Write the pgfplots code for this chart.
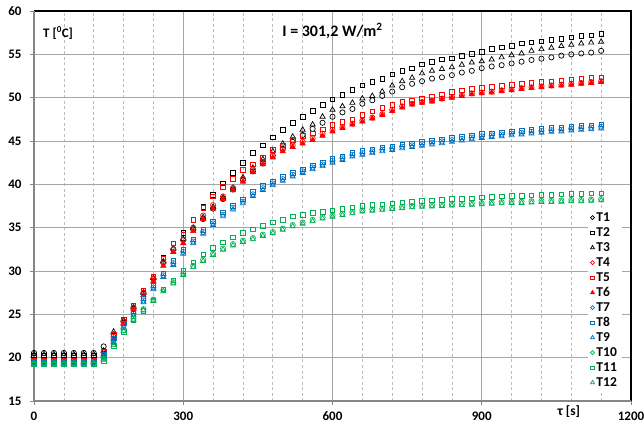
\documentclass[border=0pt]{standalone}
\usepackage{fontspec}
\setmainfont{Carlito}
\usepackage{pgfplots}
\usepackage{pgfplotstable}
\pgfplotsset{compat=1.18}

\definecolor{cred}{HTML}{FF0000}
\definecolor{cblue}{HTML}{0070C0}
\definecolor{cgreen}{HTML}{00B050}
\definecolor{gridc}{HTML}{A6A6A6}
\definecolor{axc}{HTML}{868686}

% black group: T1 circle, T2 square, T3 triangle
\pgfplotstableread{
t    a      b      c
0    20.55  20.25  20.40
20   20.55  20.25  20.40
40   20.55  20.25  20.40
60   20.55  20.25  20.40
80   20.55  20.25  20.40
100  20.55  20.25  20.40
120  20.55  20.25  20.40
140  21.30  20.50  20.80
160  22.70  22.50  23.00
180  24.20  24.00  24.30
200  25.70  25.60  25.80
220  27.40  27.40  27.50
240  29.10  29.30  29.20
260  31.00  31.50  31.10
280  32.50  33.20  32.60
300  33.60  34.40  33.70
320  34.80  35.90  35.00
340  36.00  37.40  36.20
360  37.20  38.80  37.40
380  38.30  40.10  38.50
400  39.40  41.35  39.60
420  40.50  42.50  40.80
440  41.50  43.60  41.90
460  42.40  44.50  42.90
480  43.30  45.40  43.80
500  44.10  46.30  44.70
520  44.90  47.10  45.50
540  45.70  47.80  46.30
560  46.40  48.50  46.90
580  47.10  49.15  47.80
600  47.80  49.80  48.60
620  48.30  50.30  49.00
640  48.70  50.90  49.40
660  49.30  51.40  49.90
680  49.70  51.85  50.20
700  50.20  52.20  50.70
720  50.70  52.70  51.40
740  51.20  53.10  51.90
760  51.60  53.40  52.30
780  51.90  53.85  52.80
800  52.20  54.10  53.10
820  52.35  54.40  53.30
840  52.60  54.55  53.50
860  52.90  54.80  53.80
880  53.10  55.05  54.05
900  53.40  55.30  54.20
920  53.60  55.60  54.40
940  53.75  55.80  54.65
960  53.95  55.95  54.90
980  54.15  56.25  55.10
1000 54.35  56.40  55.40
1020 54.50  56.50  55.60
1040 54.65  56.65  55.75
1060 54.85  56.80  55.95
1080 55.00  56.95  56.10
1100 55.10  57.10  56.25
1120 55.20  57.20  56.35
1140 55.40  57.35  56.45
}\tblack

% red group: T4 circle, T5 square, T6 triangle
\pgfplotstableread{
t    a      b      c
0    19.60  19.65  19.50
20   19.60  19.65  19.50
40   19.60  19.65  19.50
60   19.60  19.65  19.50
80   19.60  19.65  19.50
100  19.60  19.65  19.50
120  19.60  19.65  19.50
140  20.60  20.70  20.40
160  22.40  22.60  22.20
180  24.20  24.35  24.00
200  25.80  26.00  25.60
220  27.50  27.70  27.20
240  29.10  29.40  28.80
260  31.00  31.40  30.60
280  32.50  33.20  32.20
300  33.60  34.20  33.20
320  35.00  35.90  34.60
340  36.40  37.30  36.00
360  37.60  38.60  37.20
380  38.60  39.70  38.30
400  39.60  40.60  39.30
420  40.60  41.70  40.30
440  41.70  42.30  41.40
460  42.60  43.10  42.30
480  43.30  44.00  43.10
500  44.00  44.50  43.80
520  44.50  45.10  44.30
540  44.90  45.60  44.70
560  45.30  45.90  45.10
580  45.85  46.35  45.60
600  46.27  46.85  46.10
620  46.60  47.20  46.50
640  47.00  47.50  46.90
660  47.35  48.00  47.25
680  47.70  48.40  47.60
700  48.10  48.85  48.00
720  48.60  49.15  48.45
740  49.00  49.50  48.85
760  49.30  49.70  49.20
780  49.50  49.90  49.40
800  49.65  50.10  49.55
820  49.90  50.40  49.80
840  50.10  50.65  50.00
860  50.30  50.85  50.20
880  50.50  51.05  50.40
900  50.60  51.15  50.50
920  50.70  51.25  50.60
940  50.85  51.35  50.75
960  50.95  51.45  50.85
980  51.10  51.60  51.00
1000 51.20  51.70  51.10
1020 51.30  51.80  51.20
1040 51.40  51.90  51.30
1060 51.50  52.00  51.40
1080 51.60  52.10  51.50
1100 51.70  52.20  51.60
1120 51.80  52.30  51.70
1140 51.90  52.35  51.80
}\tred

% blue group: T7 circle, T8 square, T9 triangle
\pgfplotstableread{
t    a      b      c
0    19.50  19.45  19.40
20   19.50  19.45  19.40
40   19.50  19.45  19.40
60   19.50  19.45  19.40
80   19.50  19.45  19.40
100  19.50  19.45  19.40
120  19.50  19.45  19.40
140  20.10  20.30  19.90
160  22.00  22.25  21.80
180  23.70  23.95  23.50
200  25.10  25.35  24.90
220  26.60  26.85  26.40
240  28.10  28.35  27.90
260  29.50  29.75  29.30
280  30.90  31.15  30.70
300  32.20  32.45  32.00
320  33.40  33.65  33.20
340  34.50  34.75  34.30
360  35.50  35.75  35.30
380  36.50  36.75  36.30
400  37.30  37.55  37.10
420  38.00  38.25  37.80
440  38.85  39.10  38.65
460  39.55  39.80  39.35
480  40.10  40.35  39.90
500  40.60  40.85  40.40
520  41.10  41.35  40.90
540  41.50  41.75  41.30
560  41.95  42.20  41.75
580  42.30  42.55  42.10
600  42.70  42.95  42.50
620  43.00  43.25  42.80
640  43.40  43.65  43.20
660  43.60  43.85  43.40
680  43.80  44.05  43.60
700  44.00  44.25  43.80
720  44.15  44.40  43.95
740  44.35  44.60  44.15
760  44.50  44.75  44.30
780  44.65  44.90  44.45
800  44.80  45.05  44.60
820  44.95  45.20  44.75
840  45.10  45.35  44.90
860  45.25  45.50  45.05
880  45.40  45.65  45.20
900  45.55  45.80  45.35
920  45.65  45.90  45.45
940  45.75  46.00  45.55
960  45.85  46.10  45.65
980  45.95  46.20  45.75
1000 46.05  46.30  45.85
1020 46.15  46.40  45.95
1040 46.25  46.50  46.05
1060 46.30  46.55  46.10
1080 46.40  46.65  46.20
1100 46.50  46.75  46.30
1120 46.55  46.80  46.35
1140 46.65  46.90  46.45
}\tblue

% green group: T10 circle, T11 square, T12 triangle
\pgfplotstableread{
t    a      b      c
0    19.35  19.25  19.30
20   19.35  19.25  19.30
40   19.35  19.25  19.30
60   19.35  19.25  19.30
80   19.35  19.25  19.30
100  19.35  19.25  19.30
120  19.35  19.25  19.30
140  19.90  19.60  19.75
160  21.60  21.30  21.45
180  23.20  23.00  23.05
200  24.50  24.30  24.35
220  25.60  25.40  25.45
240  26.70  26.60  26.55
260  27.80  27.90  27.65
280  28.70  28.90  28.55
300  29.70  30.00  29.55
320  30.60  31.00  30.45
340  31.30  31.90  31.15
360  32.00  32.70  31.85
380  32.60  33.30  32.45
400  33.10  33.90  32.95
420  33.50  34.40  33.35
440  33.80  34.80  33.65
460  34.20  35.20  34.05
480  34.50  35.60  34.35
500  34.90  35.90  34.75
520  35.30  36.30  35.15
540  35.60  36.50  35.45
560  35.90  36.70  35.75
580  36.20  36.85  36.05
600  36.40  37.00  36.25
620  36.60  37.20  36.45
640  36.80  37.35  36.65
660  37.00  37.50  36.85
680  37.10  37.60  36.95
700  37.20  37.70  37.05
720  37.30  37.80  37.15
740  37.40  37.90  37.25
760  37.50  38.00  37.35
780  37.55  38.10  37.40
800  37.60  38.15  37.45
820  37.65  38.20  37.50
840  37.70  38.30  37.55
860  37.75  38.35  37.60
880  37.80  38.40  37.65
900  37.85  38.50  37.70
920  37.90  38.55  37.75
940  37.95  38.60  37.80
960  38.00  38.65  37.85
980  38.00  38.70  37.85
1000 38.05  38.75  37.90
1020 38.10  38.80  37.95
1040 38.10  38.80  37.95
1060 38.15  38.85  38.00
1080 38.20  38.90  38.05
1100 38.20  38.90  38.05
1120 38.25  38.95  38.10
1140 38.30  38.95  38.15
}\tgreen

\begin{document}
\begin{tikzpicture}
\begin{axis}[
    scale only axis,
    width=597pt, height=390pt,
    xmin=0, xmax=1200, ymin=15, ymax=60,
    xtick={0,300,...,1200}, ytick={15,20,...,60},
    minor x tick num=4,
    xmajorgrids, ymajorgrids, xminorgrids,
    major grid style={draw=gridc, line width=0.8pt},
    minor grid style={draw=gridc!75, dash pattern=on 3pt off 2.5pt, line width=0.7pt},
    tick align=outside, tick pos=left,
    major tick length=4pt, minor tick length=0pt,
    tick style={draw=axc, line width=0.8pt},
    axis line style={draw=none},
    ticklabel style={font=\bfseries\fontsize{13}{15}\selectfont},
    xticklabel style={yshift=-3.5pt},
    yticklabel style={xshift=-5pt},
    /pgf/number format/assume math mode=true,
    /pgf/number format/1000 sep={},
    clip=false,
    every axis plot/.append style={only marks, line width=0.7pt},
    legend style={at={(0.985,0.495)}, anchor=north east, draw=none, fill=white,
        font=\bfseries\fontsize{13.5}{15}\selectfont,
        nodes={text height=9pt, text depth=2pt, inner sep=2pt}},
    legend cell align=left,
    legend image post style={scale=0.75},
]
\draw[black, line width=1.3pt] (rel axis cs:0,1) -- (rel axis cs:1,1) -- (rel axis cs:1,0);
\draw[axc, line width=1.6pt] (rel axis cs:0,1) -- (rel axis cs:0,0) -- (rel axis cs:1,0);

\addplot[black, mark=o, mark size=2.6pt] table[x=t, y=a] {\tblack};
\addplot[black, mark=square, mark size=2.3pt] table[x=t, y=b] {\tblack};
\addplot[black, mark=triangle, mark size=3pt] table[x=t, y=c] {\tblack};
\addplot[cred, mark=o, mark size=2.6pt] table[x=t, y=a] {\tred};
\addplot[cred, mark=square, mark size=2.3pt] table[x=t, y=b] {\tred};
\addplot[cred, mark=triangle*, mark size=3pt, mark options={fill=cred}] table[x=t, y=c] {\tred};
\addplot[cblue, mark=o, mark size=2.6pt] table[x=t, y=a] {\tblue};
\addplot[cblue, mark=square, mark size=2.3pt] table[x=t, y=b] {\tblue};
\addplot[cblue, mark=triangle, mark size=3pt] table[x=t, y=c] {\tblue};
\addplot[cgreen, mark=o, mark size=2.6pt] table[x=t, y=a] {\tgreen};
\addplot[cgreen, mark=square, mark size=2.3pt] table[x=t, y=b] {\tgreen};
\addplot[cgreen, mark=triangle, mark size=3pt] table[x=t, y=c] {\tgreen};
\legend{T1,T2,T3,T4,T5,T6,T7,T8,T9,T10,T11,T12}

\node[anchor=west, inner sep=0pt, font=\bfseries\fontsize{13}{15}\selectfont] at (axis cs:18,57.46) {T [\textsuperscript{0}C]};
\node[inner sep=0pt, font=\bfseries\fontsize{16}{18}\selectfont] at (axis cs:600,57.7) {I = 301,2 W/m\textsuperscript{2}};
\node[inner sep=0pt, font=\bfseries\fontsize{13.5}{15}\selectfont] at (axis cs:1075,13.73) {τ [s]};

\coordinate (ll) at (rel axis cs:0,0);
\coordinate (ur) at (rel axis cs:1,1);
\end{axis}
\pgfresetboundingbox
\path[use as bounding box] ([xshift=-34pt,yshift=-24pt]ll) rectangle ([xshift=13pt,yshift=11pt]ur);
\end{tikzpicture}
\end{document}
